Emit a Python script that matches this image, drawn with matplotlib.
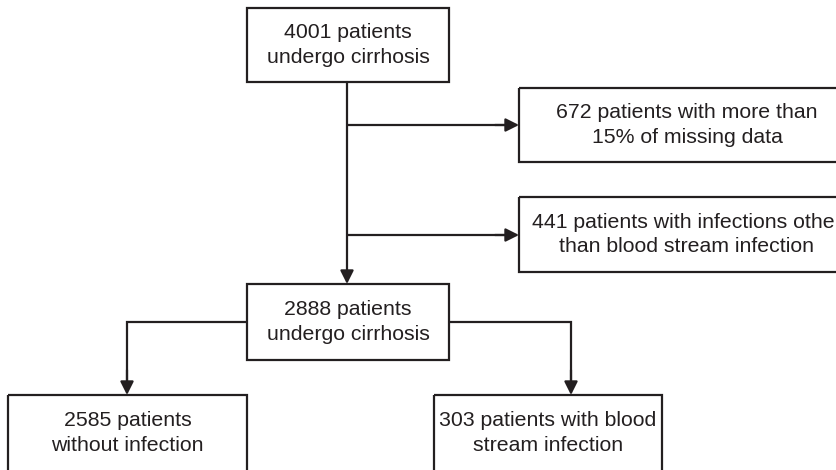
import matplotlib.pyplot as plt
from matplotlib.patches import Rectangle

plt.rcParams['font.family'] = ['Liberation Sans', 'DejaVu Sans']

# box texts
labels = [
    '4001 patients\nundergo cirrhosis',
    '672 patients with more than\n15% of missing data',
    '441 patients with infections other\nthan blood stream infection',
    '2888 patients\nundergo cirrhosis',
    '2585 patients\nwithout infection',
    '303 patients with blood\nstream infection',
]

# box geometry in pixels: left, top, right, bottom
boxes = [
    (247, 8, 449, 82),
    (519, 88, 855, 162),
    (519, 197, 855, 272),
    (247, 284, 449, 360),
    (8, 395, 247, 490),
    (434, 395, 662, 490),
]

ink = '#231f20'
lw = 1.6

fig = plt.figure(figsize=(8.37, 4.70), dpi=100)
ax = fig.add_axes([0, 0, 1, 1])
ax.set_xlim(0, 837)
ax.set_ylim(470, 0)
ax.axis('off')

for (x0, y0, x1, y1), txt in zip(boxes, labels):
    ax.add_patch(Rectangle((x0, y0), x1 - x0, y1 - y0, fill=False,
                           edgecolor=ink, linewidth=lw))
    cy = y0 + 38 if y1 > 470 else (y0 + y1) / 2
    ax.text((x0 + x1) / 2, cy, txt, ha='center', va='center',
            fontsize=15.3, color=ink, linespacing=1.38)


def arrow(x0, y0, x1, y1):
    ax.annotate('', xy=(x1, y1), xytext=(x0, y0),
                arrowprops=dict(arrowstyle='-|>', color=ink, lw=lw,
                                mutation_scale=20, shrinkA=0, shrinkB=0))


def line(xs, ys):
    ax.plot(xs, ys, color=ink, lw=lw, solid_joinstyle='miter',
            solid_capstyle='butt')


# main trunk
arrow(347, 82, 347, 284)
# exclusions
line([347, 505], [125, 125])
arrow(495, 125, 519, 125)
line([347, 505], [235, 235])
arrow(495, 235, 519, 235)
# split
line([247, 127, 127], [322, 322, 385])
arrow(127, 370, 127, 395)
line([449, 571, 571], [322, 322, 385])
arrow(571, 370, 571, 395)

fig.savefig('out.png', dpi=100)
